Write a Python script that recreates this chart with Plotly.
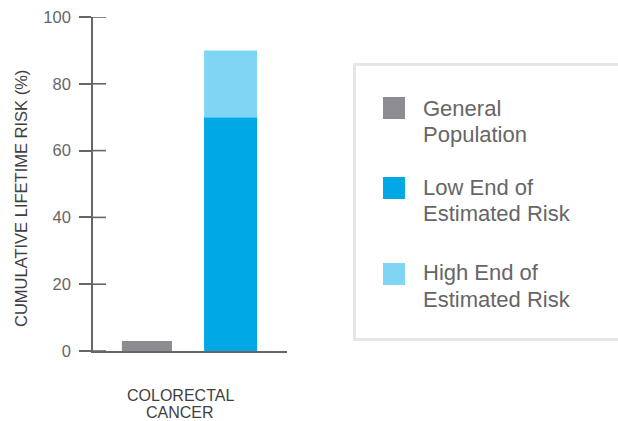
import plotly.graph_objects as go

# ---- data ----
categories = ["COLORECTAL<br>CANCER"]
general_population = [3]
low_end_risk = [70]
high_end_increment = [20]   # 70 -> 90
series_names = ["General", "Population"], ["Low End of", "Estimated Risk"], ["High End of", "Estimated Risk"]
y_ticks = [0, 20, 40, 60, 80, 100]

W, H = 618, 421
L, R, T, B = 93, 287, 17, 351  # plot area in pixels
def px(x): return (x - L) / (R - L)
def py(y): return (B - y) / (B - T)

GRAY = "#8d8d91"
BLUE = "#00a9e5"
LIGHT = "#80d5f4"
AX = "#666666"
TXT = "#666666"
FONT = "Liberation Sans"

fig = go.Figure()
fig.add_bar(x=[0.278], y=general_population, width=0.258, marker_color=GRAY,
            marker_line_width=0, name="General Population", showlegend=False)
fig.add_bar(x=[0.709], y=low_end_risk, width=0.273, marker_color=BLUE,
            marker_line_width=0, name="Low End of Estimated Risk", showlegend=False)
fig.add_bar(x=[0.709], y=high_end_increment, base=low_end_risk, width=0.273,
            marker_color=LIGHT, marker_line_width=0,
            name="High End of Estimated Risk", showlegend=False)

shapes = []
# inside half of y ticks
for t in y_ticks:
    shapes.append(dict(type="line", xref="paper", yref="y", x0=0, x1=px(106), y0=t, y1=t,
                       line=dict(color=AX, width=1.6), layer="above"))
# legend box
shapes.append(dict(type="rect", xref="paper", yref="paper", x0=px(354.5), x1=px(660),
                   y0=py(64.5), y1=py(339.5), line=dict(color="#e6e6e6", width=3)))
# legend swatches
for (y0, y1), c in zip([(97, 119), (177, 199), (263, 285)], [GRAY, BLUE, LIGHT]):
    shapes.append(dict(type="rect", xref="paper", yref="paper", x0=px(383), x1=px(405),
                       y0=py(y1), y1=py(y0), line=dict(width=0), fillcolor=c))

annotations = []
for (a, b), (ya, yb) in zip(series_names, [(108, 134), (187, 214), (272, 299)]):
    for text, yy in ((a, ya), (b, yb)):
        annotations.append(dict(text=text, xref="paper", yref="paper", x=px(421), y=py(yy),
                                xanchor="left", yanchor="middle", showarrow=False,
                                font=dict(family=FONT, size=22, color=TXT)))
# category label (two lines)
for text, yy in zip(categories[0].split("<br>"), (395, 412)):
    annotations.append(dict(text=text, xref="paper", yref="paper", x=px(180), y=py(yy),
                            xanchor="center", yanchor="middle", showarrow=False,
                            font=dict(family=FONT, size=16, color="#3f3f3f")))
# y axis title
annotations.append(dict(text="CUMULATIVE LIFETIME RISK (%)", xref="paper", yref="paper",
                        x=px(21), y=py(199), textangle=-90, xanchor="center", yanchor="middle",
                        showarrow=False, font=dict(family=FONT, size=16.5, color="#3f3f3f")))

fig.update_layout(
    width=W, height=H, margin=dict(l=L, r=W - R, t=T, b=H - B, autoexpand=False),
    plot_bgcolor="white", paper_bgcolor="white", barmode="overlay",
    showlegend=False, shapes=shapes, annotations=annotations,
    xaxis=dict(range=[0, 1], showgrid=False, zeroline=False, showticklabels=False,
               showline=True, linecolor=AX, linewidth=1.6, ticks="", automargin=False),
    yaxis=dict(range=[0, 100], tickvals=y_ticks, showgrid=False, zeroline=False,
               showline=True, linecolor=AX, linewidth=1.6, ticks="outside", ticklen=12,
               tickwidth=1.6, tickcolor=AX, ticklabelstandoff=5, automargin=False,
               tickfont=dict(family=FONT, size=16.5, color=TXT)),
)
fig.write_html("out.html")
